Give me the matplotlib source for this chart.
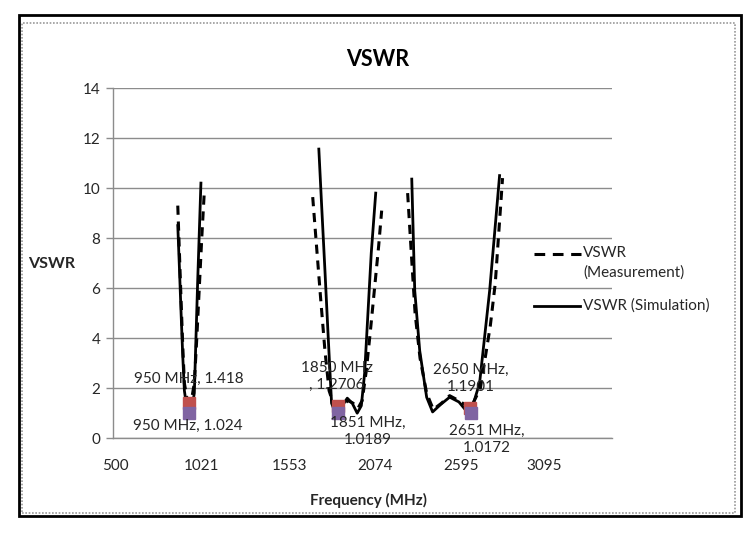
import matplotlib
matplotlib.use("Agg")
import matplotlib.pyplot as plt
from matplotlib.patches import Rectangle
from matplotlib.lines import Line2D

plt.rcParams['font.family'] = ['Lato', 'DejaVu Sans']

# --- data ---
sim1_f = [880, 890, 900, 910, 920, 935, 950, 965, 980, 990, 1000, 1010, 1020]
sim1_v = [8.5, 6.8, 5.0, 3.3, 1.9, 1.2, 1.02, 1.2, 1.8, 4.0, 6.2, 8.2, 10.2]
meas1_f = [880, 890, 900, 910, 920, 935, 950, 965, 980, 995, 1010, 1025, 1040]
meas1_v = [9.3, 7.4, 5.5, 3.7, 2.2, 1.6, 1.418, 1.6, 2.2, 4.0, 6.0, 8.0, 9.8]

sim2_f = [1733, 1750, 1770, 1790, 1810, 1830, 1851, 1875, 1905, 1935, 1965, 1990, 2010, 2030, 2050, 2077]
sim2_v = [11.56, 9.3, 6.7, 4.0, 1.4, 1.05, 1.0189, 1.3, 1.6, 1.4, 1.0, 1.3, 2.6, 5.0, 7.4, 9.8]
meas2_f = [1696, 1720, 1745, 1770, 1795, 1820, 1850, 1880, 1910, 1940, 1970, 1995, 2020, 2045, 2070, 2095, 2113]
meas2_v = [9.64, 7.6, 5.5, 3.5, 1.9, 1.4, 1.2706, 1.35, 1.5, 1.4, 1.2, 1.5, 2.7, 4.3, 6.0, 7.7, 9.1]

sim3_f = [2295, 2313, 2343, 2385, 2421, 2470, 2524, 2580, 2630, 2651, 2705, 2766, 2826]
sim3_v = [10.36, 5.9, 3.5, 1.64, 1.05, 1.35, 1.64, 1.45, 1.05, 1.0172, 2.2, 5.9, 10.5]
meas3_f = [2270, 2295, 2315, 2345, 2385, 2425, 2475, 2524, 2580, 2650, 2710, 2770, 2800, 2844]
meas3_v = [9.8, 7.1, 5.0, 3.2, 1.8, 1.15, 1.4, 1.7, 1.5, 1.1901, 2.0, 4.5, 6.2, 10.4]

meas_pts_f = [950, 1850, 2650]
meas_pts_v = [1.418, 1.2706, 1.1901]
sim_pts_f = [950, 1851, 2651]
sim_pts_v = [1.024, 1.0189, 1.0172]

x_ticks = [500, 1021, 1553, 2074, 2595, 3095]
y_ticks = [0, 2, 4, 6, 8, 10, 12, 14]

W, H = 753, 537
def fx(px):
    return px / W
def fy(py):
    return 1 - py / H

fig = plt.figure(figsize=(7.53, 5.37), dpi=100)
ax = fig.add_axes([0.150, 0.184, 0.663, 0.652])

grid_c = '#8c8c8c'
tc = '#262626'
dash = (0, (3.0, 2.2))
for mf, mv in [(meas1_f, meas1_v), (meas2_f, meas2_v), (meas3_f, meas3_v)]:
    ax.plot(mf, mv, color='black', lw=2.2, ls=dash, zorder=3)
for sf, sv in [(sim1_f, sim1_v), (sim2_f, sim2_v), (sim3_f, sim3_v)]:
    ax.plot(sf, sv, color='black', lw=2.0, zorder=4)

ax.plot(meas_pts_f, meas_pts_v, ls='none', marker='s', ms=8, color='#C0504D', zorder=5)
ax.plot(sim_pts_f, sim_pts_v, ls='none', marker='s', ms=8, color='#8064A2', zorder=6)

fs = 11
ls_ = 1.3
ax.text(945, 2.36, '950 MHz, 1.418', ha='center', va='center', fontsize=fs, color=tc, zorder=7)
ax.text(940, 0.48, '950 MHz, 1.024', ha='center', va='center', fontsize=fs, color=tc, zorder=7)
ax.text(1840, 2.48, '1850 MHz\n, 1.2706', ha='center', va='center', fontsize=fs, color=tc,
        linespacing=ls_, zorder=7)
ax.text(2030, 0.26, '1851 MHz,\n1.0189', ha='center', va='center', fontsize=fs, color=tc,
        linespacing=ls_, zorder=7)
ax.text(2654, 2.38, '2650 MHz,\n1.1901', ha='center', va='center', fontsize=fs, color=tc,
        linespacing=ls_, zorder=7)
ax.text(2750, -0.04, '2651 MHz,\n1.0172', ha='center', va='center', fontsize=fs, color=tc,
        linespacing=ls_, zorder=7)

ax.set_xlim(488, 3507)
ax.set_ylim(0, 14)
ax.set_xticks(x_ticks)
ax.set_yticks(y_ticks)
ax.tick_params(axis='x', length=0, pad=15, labelsize=11, colors=tc)
ax.tick_params(axis='y', length=5, width=1, color=grid_c, pad=4, labelsize=11, labelcolor=tc)
ax.yaxis.grid(True, color=grid_c, lw=1)
ax.set_axisbelow(True)
for s in ['top', 'right']:
    ax.spines[s].set_visible(False)
for s in ['left', 'bottom']:
    ax.spines[s].set_color(grid_c)
    ax.spines[s].set_linewidth(1)

fig.text(fx(378), fy(60), 'VSWR', fontsize=15.5, fontweight='bold', color='black',
         ha='center', va='center')
fig.text(fx(368), fy(500), 'Frequency (MHz)', fontsize=11, fontweight='bold', color=tc,
         ha='center', va='center')
fig.text(fx(28), fy(264), 'VSWR', fontsize=11.5, fontweight='bold', color=tc,
         ha='left', va='center')

# legend (Excel style, handle aligned with first text line)
fig.add_artist(Line2D([fx(534), fx(581)], [fy(254), fy(254)], transform=fig.transFigure,
                      color='black', lw=2.2, ls=(0, (3.5, 2.5))))
fig.text(fx(583), fy(253), 'VSWR', fontsize=11, color=tc, ha='left', va='center')
fig.text(fx(583), fy(273), '(Measurement)', fontsize=11, color=tc, ha='left', va='center')
fig.add_artist(Line2D([fx(534), fx(580)], [fy(306), fy(306)], transform=fig.transFigure,
                      color='black', lw=2.0))
fig.text(fx(583), fy(306), 'VSWR (Simulation)', fontsize=11, color=tc, ha='left', va='center')

# outer frame
fig.patches.append(Rectangle((fx(19), fy(516)), (741 - 19) / W, (516 - 15) / H,
                             transform=fig.transFigure, fill=False, ec='black', lw=2.0))
fig.patches.append(Rectangle((fx(22), fy(513)), (735 - 22) / W, (513 - 23) / H,
                             transform=fig.transFigure, fill=False, ec='#999999', lw=1.2,
                             ls=(0, (1, 1))))

fig.savefig('out.png', dpi=100)
